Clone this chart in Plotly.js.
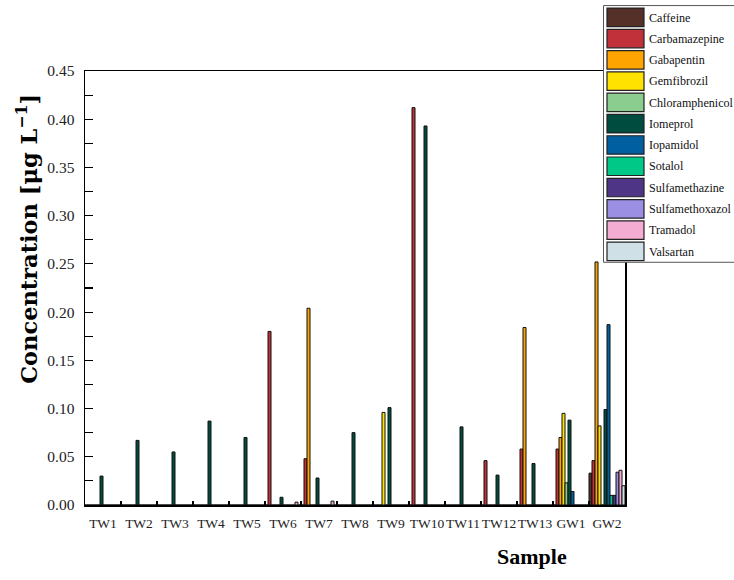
<!DOCTYPE html>
<html>
<head>
<meta charset="utf-8">
<script src="https://cdn.plot.ly/plotly-3.0.1.min.js"></script>
<style>html,body{margin:0;padding:0;background:#fff;}#chart{width:734px;height:580px;}</style>
</head>
<body>
<div id="chart"></div>
<script>
const categories = ["TW1","TW2","TW3","TW4","TW5","TW6","TW7","TW8","TW9","TW10","TW11","TW12","TW13","GW1","GW2"];
const seriesNames = ["Caffeine","Carbamazepine","Gabapentin","Gemfibrozil","Chloramphenicol","Iomeprol","Iopamidol","Sotalol","Sulfamethazine","Sulfamethoxazol","Tramadol","Valsartan"];
const seriesColors = ["#553028","#c0313a","#ffa400","#ffe200","#8bcd8e","#004c3f","#005fa0","#00c987","#4e3586","#9b8fe3","#f4acd3","#cfe0e6"];

const caffeine        = [0,0,0,0,0,0,0,0,0,0,0,0,0,0,0.033];
const carbamazepine   = [0,0,0,0,0,0.180,0.048,0,0,0.412,0,0.046,0.058,0.058,0.046];
const gabapentin      = [0,0,0,0,0,0,0.204,0,0,0,0,0,0.184,0.070,0.252];
const gemfibrozil     = [0,0,0,0,0,0,0,0,0.096,0,0,0,0,0.095,0.082];
const chloramphenicol = [0,0,0,0,0,0,0,0,0,0,0,0,0,0.023,0];
const iomeprol        = [0.030,0.067,0.055,0.087,0.070,0.008,0.028,0.075,0.101,0.393,0.081,0.031,0.043,0.088,0.099];
const iopamidol       = [0,0,0,0,0,0,0,0,0,0,0,0,0,0.014,0.187];
const sotalol         = [0,0,0,0,0,0,0,0,0,0,0,0,0,0,0.010];
const sulfamethazine  = [0,0,0,0,0,0,0,0,0,0,0,0,0,0,0.010];
const sulfamethoxazol = [0,0,0,0,0,0,0,0,0,0,0,0,0,0,0.034];
const tramadol        = [0,0,0,0,0,0.003,0.004,0,0,0,0,0,0,0,0.036];
const valsartan       = [0,0,0,0,0,0,0,0,0,0,0,0,0,0,0.020];

const seriesValues = [caffeine,carbamazepine,gabapentin,gemfibrozil,chloramphenicol,iomeprol,iopamidol,sotalol,sulfamethazine,sulfamethoxazol,tramadol,valsartan];

const SERIF = "Liberation Serif, DejaVu Serif, serif";
const WIDE_SERIF = "DejaVu Serif, Liberation Serif, serif";

const traces = seriesNames.map((n,i)=>({
  type:'bar', name:n, x:categories, y:seriesValues[i],
  marker:{color:seriesColors[i], line:{color:'#111', width:1}},
  showlegend:false, hoverinfo:'x+y+name'
}));

// plot area in pixels
const L=85, R=625, T=71, B=505.5;
const px2x = p => (p-L)/(R-L);
const px2y = p => (B-p)/(B-T);

const shapes = [];
const annotations = [];
// legend box
shapes.push({type:'rect', xref:'paper', yref:'paper', layer:'above',
  x0:px2x(603.5), x1:px2x(745), y0:px2y(5.5), y1:px2y(262.5),
  fillcolor:'#fff', line:{color:'#555', width:1}});
seriesNames.forEach((n,i)=>{
  const top = 8 + i*21.3;
  shapes.push({type:'rect', xref:'paper', yref:'paper', layer:'above',
    x0:px2x(607), x1:px2x(644), y0:px2y(top), y1:px2y(top+18.5),
    fillcolor:seriesColors[i], line:{color:'#222', width:1.2}});
  annotations.push({xref:'paper', yref:'paper', x:px2x(647), y:px2y(top+9.5),
    xanchor:'left', yanchor:'middle', showarrow:false, text:n,
    font:{family:SERIF, size:12.1, color:'#111'}});
});
// axis titles
annotations.push({xref:'paper', yref:'paper', x:px2x(27), y:px2y(239), textangle:-90,
  xanchor:'center', yanchor:'middle', showarrow:false,
  text:'<b>Concentration [μg L<sup>−1</sup>]</b>', font:{family:WIDE_SERIF, size:22.5, color:'#000'}});
annotations.push({xref:'paper', yref:'paper', x:px2x(532), y:px2y(557),
  xanchor:'center', yanchor:'middle', showarrow:false,
  text:'<b>Sample</b>', font:{family:SERIF, size:22, color:'#000'}});

const layout = {
  width:734, height:580,
  margin:{l:L, r:734-R, t:T, b:580-B, pad:0},
  paper_bgcolor:'#fff', plot_bgcolor:'#fff',
  barmode:'group', bargap:0, bargroupgap:0,
  showlegend:false,
  font:{family:SERIF, size:14, color:'#222'},
  xaxis:{type:'category', range:[-0.5,14.5], showline:true, linecolor:'#000', linewidth:1.5,
    mirror:true, ticks:'inside', tickson:'boundaries', ticklen:4, tickcolor:'#000', tickwidth:1.5,
    tickangle:0, ticklabelstandoff:5,
    showgrid:false, zeroline:false, tickfont:{family:SERIF, size:13.5, color:'#222'}},
  yaxis:{range:[0,0.45], dtick:0.05, tickformat:'.2f', showline:true, linecolor:'#000', linewidth:1.5,
    mirror:true, ticks:'inside', ticklen:8, tickcolor:'#000', tickwidth:1.2, ticklabelstandoff:6,
    minor:{dtick:0.025, ticks:'inside', ticklen:8, tickcolor:'#000', tickwidth:1.2, showgrid:false},
    showgrid:false, zeroline:false, tickfont:{family:SERIF, size:15.5, color:'#222'}},
  shapes:shapes, annotations:annotations
};

Plotly.newPlot('chart', traces, layout, {displayModeBar:false, staticPlot:true});
</script>
</body>
</html>
